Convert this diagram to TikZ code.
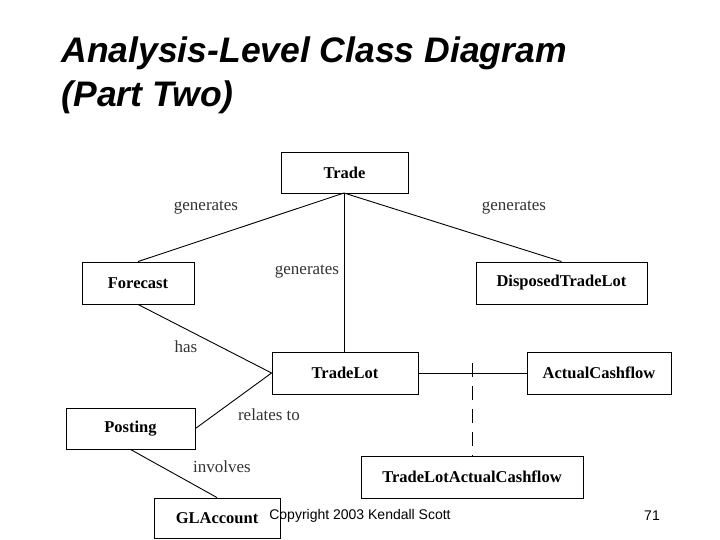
\documentclass[tikz,border=0pt]{standalone}
\usepackage{fontspec}
\setmainfont{Liberation Serif}
\newfontfamily\arial{Liberation Sans}
\begin{document}
\begin{tikzpicture}[x=1pt,y=-1pt,
  cls/.style={draw,line width=0.9pt,fill=white,inner sep=0pt,font=\bfseries\fontsize{16.5}{18}\selectfont},
  lbl/.style={font=\fontsize{17}{19}\selectfont,text=black!80},
  conn/.style={line width=0.9pt}]
\useasboundingbox (0,0) rectangle (720,540);
\node[anchor=west,font=\arial\bfseries\itshape\fontsize{35.5}{40}\selectfont] (t1) at (58,53) {Analysis-Level Class Diagram};
\node[anchor=west,font=\arial\bfseries\itshape\fontsize{35.5}{40}\selectfont] (t2) at (58,97) {(Part Two)};
\node[cls,minimum width=127pt,minimum height=41pt] (trade) at (344.5,172.5) {Trade};
\node[cls,minimum width=171pt,minimum height=42pt] (dtl) at (561.5,283) {DisposedTradeLot};
\node[cls,minimum width=112pt,minimum height=42pt] (fc) at (138,283) {Forecast};
\node[cls,minimum width=146pt,minimum height=42pt] (tl) at (345,373) {TradeLot};
\node[cls,minimum width=144pt,minimum height=42pt] (ac) at (599,373) {ActualCashflow};
\node[cls,minimum width=222pt,minimum height=42pt] (tlac) at (472,477) {TradeLotActualCashflow};
\node[cls,minimum width=129pt,minimum height=41pt] (post) at (130.5,428.5) {Posting};
\node[cls,minimum width=126pt,minimum height=40pt] (gl) at (217,518) {GLAccount};
\coordinate (tb) at (344,193);
\coordinate (dash) at (472,373);
\draw[conn] (tb) -- (fc.north);
\draw[conn] (tb) -- (dtl.north);
\draw[conn] (tb) -- (tl.north -| tb);
\draw[conn] (fc.south) -- (tl.west);
\draw[conn] (post.east) -- (tl.west);
\draw[conn] (post.south) -- (gl.north);
\draw[conn] (tl.east) -- (ac.west);
\draw[conn,dash pattern=on 14pt off 9pt] ([yshift=10pt]dash) -- (tlac.north -| dash);
\node[lbl] (l1) at (206,208) {generates};
\node[lbl] (l2) at (514,208) {generates};
\node[lbl] (l3) at (307,272) {generates};
\node[lbl] (l4) at (186,347) {has};
\node[lbl] (l5) at (269,415) {relates to};
\node[lbl] (l6) at (222,467) {involves};
\node[font=\arial\fontsize{14}{16}\selectfont] (cp) at (360,516) {Copyright 2003 Kendall Scott};
\node[font=\arial\fontsize{14}{16}\selectfont] (pg) at (652,516) {71};
\end{tikzpicture}
\end{document}
